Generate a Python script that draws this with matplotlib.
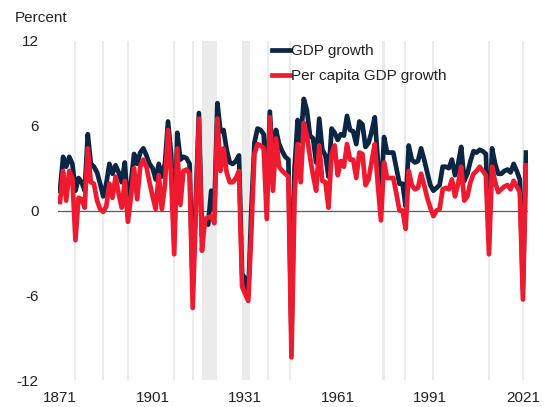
import numpy as np
import matplotlib
matplotlib.use("Agg")
import matplotlib.pyplot as plt

plt.rcParams['font.family'] = ['Liberation Sans', 'DejaVu Sans']

# one value per year (label years 1871..2022)
years = np.arange(1871, 2023)

gdp_growth = [
	1.4, 3.8, 3.1, 3.8, 3.3, 1.4, 2.3, 2.0, 1.4, 5.4,
	3.3, 3.1, 2.7, 1.9, 1.0, 1.9, 3.3, 2.6, 3.2, 2.7,
	2.0, 3.4, 0.3, 2.0, 4.0, 3.3, 4.1, 4.4, 3.9, 3.3,
	3.0, 2.2, 3.3, 2.4, 3.3, 6.3, 4.0, -2.0, 5.5, 3.6,
	3.8, 3.7, 3.3, -5.5, 0.8, 6.9, -1.8, -0.6, -1.0, 1.4,
	0.0, 7.6, 5.6, 5.7, 4.3, 3.4, 3.3, 3.5, 3.9, -4.5,
	-4.8, -6.0, 0.0, 4.8, 5.8, 5.7, 5.4, 0.8, 7.0, 3.2,
	5.7, 4.7, 4.2, 3.8, 3.6, -9.0, 3.0, 6.4, 4.9, 7.9,
	7.1, 5.3, 5.1, 3.4, 6.5, 4.3, 3.9, 2.4, 5.8, 5.5,
	5.0, 5.4, 5.3, 6.7, 5.7, 5.6, 4.7, 6.3, 6.1, 4.5,
	4.8, 5.6, 6.6, 3.5, 0.95, 5.2, 4.1, 4.1, 4.1, 3.0,
	1.9, 1.9, 0.3, 4.6, 3.6, 3.4, 3.5, 4.4, 3.6, 2.7,
	1.8, 1.4, 1.6, 1.8, 3.1, 3.1, 3.0, 3.6, 2.5, 3.3,
	4.5, 2.1, 2.6, 3.5, 4.2, 4.1, 4.3, 4.2, 4.0, -2.0,
	4.4, 3.3, 2.6, 2.6, 2.8, 2.9, 2.7, 3.3, 2.8, 2.2,
	-5.5, 4.1,
]

per_capita_growth = [
	0.6, 2.8, 0.7, 2.8, 2.3, -2.1, 0.9, 0.8, 0.2, 4.4,
	2.0, 1.9, 0.7, 0.1, -0.1, 0.3, 1.9, 0.9, 2.4, 1.2,
	0.2, 2.1, -0.8, 1.0, 3.0, 0.8, 3.1, 3.6, 3.1, 2.0,
	1.0, 0.1, 2.5, 0.1, 1.8, 5.7, 2.5, -3.1, 4.4, 0.4,
	2.8, 2.9, 2.6, -6.9, -0.2, 6.5, -2.85, -0.6, -0.5, -0.4,
	-0.9, 6.5, 2.8, 4.4, 2.7, 2.0, 2.0, 2.3, 2.8, -5.4,
	-5.9, -6.4, -1.5, 4.0, 4.7, 4.6, 4.4, -0.6, 6.6, 1.4,
	5.1, 3.1, 2.8, 2.6, 2.4, -10.4, 1.0, 4.7, 2.0, 6.2,
	5.3, 3.8, 2.5, 1.4, 4.6, 2.1, 2.0, 0.2, 4.0, 4.6,
	2.5, 3.5, 3.1, 4.7, 3.6, 3.6, 2.3, 4.1, 4.0, 1.8,
	2.2, 3.5, 4.7, 1.8, -0.7, 3.4, 2.3, 2.3, 2.3, 1.2,
	0.0, 0.0, -1.3, 2.8, 1.8, 1.5, 1.6, 2.6, 1.8, 0.9,
	0.2, -0.4, 0.0, 0.1, 1.5, 1.6, 1.5, 2.2, 1.0, 1.9,
	3.1, 0.7, 1.0, 2.0, 2.6, 2.8, 3.1, 2.8, 2.5, -3.1,
	3.1, 2.0, 1.3, 1.5, 1.7, 1.8, 1.5, 2.1, 1.7, 1.3,
	-6.3, 3.2,
]

# shaded periods (start, end) in the same year units
recessions = [
	(1875.5, 1876.3), (1884.5, 1885.3), (1892.6, 1893.4), (1907.5, 1908.3),
	(1913.7, 1914.5), (1917.0, 1921.9), (1930.0, 1932.6), (1938.0, 1938.8),
	(1945.1, 1945.9), (1975.4, 1976.2), (1982.4, 1983.2), (1991.5, 1992.3),
	(2009.6, 2010.4), (2020.7, 2021.5),
]

xtick_years = [1871, 1901, 1931, 1961, 1991, 2021]
ytick_vals = [-12, -6, 0, 6, 12]

navy = '#0b2545'
red = '#ee1b30'
textColor = '#222222'

W, H = 545, 407
fig = plt.figure(figsize=(W / 100, H / 100), dpi=100)
ax = fig.add_axes([58 / W, 27 / H, 470 / W, 339 / H])

for (a, b) in recessions:
	ax.axvspan(a, b, color='#ebebeb', lw=0, zorder=0)

ax.axhline(0, color='#5a5a5a', lw=0.9, zorder=1)
ax.plot(years, gdp_growth, color=navy, lw=3.4, solid_joinstyle='round', zorder=2, label='GDP growth')
ax.plot(years, per_capita_growth, color=red, lw=3.4, solid_joinstyle='round', zorder=3, label='Per capita GDP growth')

ax.set_xlim(1870.35, 2022.65)
ax.set_ylim(-12, 12)
ax.set_xticks(xtick_years)
ax.set_xticklabels([str(y) for y in xtick_years])
ax.set_yticks(ytick_vals)
ax.set_yticklabels([str(v) for v in ytick_vals])
ax.tick_params(length=0, labelsize=11, colors=textColor)
ax.tick_params(axis='y', pad=14)
ax.tick_params(axis='x', pad=8)
for s in ax.spines.values():
	s.set_visible(False)

fig.text(15 / W, 1 - 18 / H, 'Percent', fontsize=11, color=textColor, ha='left', va='center')

ax.legend(loc='upper left', bbox_to_anchor=(272 / W, 1 - 44 / H), bbox_transform=fig.transFigure,
	frameon=False, fontsize=11, handlelength=1.2, handletextpad=0.05, borderpad=0,
	borderaxespad=0, labelspacing=0.75, labelcolor=textColor)

fig.savefig('out.png', dpi=100)
